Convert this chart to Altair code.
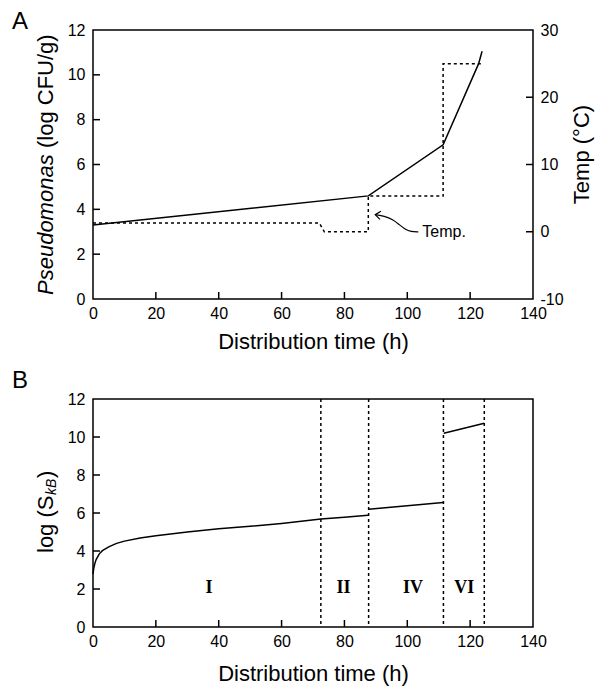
import altair as alt
import pandas as pd

# ---------------- data ----------------
X_TICKS = [0, 20, 40, 60, 80, 100, 120, 140]
Y_TICKS = [0, 2, 4, 6, 8, 10, 12]
T_TICKS = [-10, 0, 10, 20, 30]
X_MINOR = [20, 40, 60, 80, 100, 120]
Y_MINOR = [2, 4, 6, 8, 10]
T_MINOR = [0, 10, 20]

# Panel A: Pseudomonas count (log CFU/g)
pse_time = [0, 87.6, 111.4, 122.7, 123.8]
pse_log = [3.3, 4.6, 6.88, 10.5, 11.05]

# Panel A: temperature profile (deg C, right axis)
temp_time = [0, 72.0, 73.6, 87.6, 87.6, 111.4, 111.4, 123.5]
temp_c = [1.3, 1.3, 0.0, 0.0, 5.3, 5.3, 25.0, 25.0]

# Panel A: "Temp." annotation arrow
arrow_time = [89.8, 92.7, 95.4, 97.5, 99.3, 101.2, 103.5]
arrow_log = [3.76, 3.70, 3.55, 3.31, 3.11, 3.0, 2.99]
head_time = [91.6, 89.8, 91.3]
head_log = [3.91, 3.76, 3.55]
note_time = [104.8]
note_log = [3.0]
note_text = ["Temp."]

# Panel B: log(S_kB) segments
skb1_time = [0, 0.25, 0.6, 1, 2, 3, 5, 7.5, 10, 15, 20, 30, 40, 50, 60, 72.5, 80, 87.5]
skb1_val = [2.8, 3.1, 3.35, 3.55, 3.85, 4.02, 4.22, 4.4, 4.52, 4.68, 4.8, 5.0, 5.17, 5.3, 5.45, 5.68, 5.78, 5.88]
skb2_time = [87.7, 111.4]
skb2_val = [6.2, 6.55]
skb3_time = [111.6, 124.5]
skb3_val = [10.2, 10.72]

phase_bounds = [72.5, 87.7, 111.5, 124.5]
phase_names = ["I", "II", "IV", "VI"]
phase_pos = [36.9, 79.7, 101.8, 118.1]
phase_y = [2.05, 2.05, 2.05, 2.05]

# ---------------- layout ----------------
W = 440
HA = 269
HB = 228
TICK = 7
FONT = "Liberation Sans"
LW = 1.5

xs = alt.Scale(domain=[0, 140], nice=False, zero=False)
x_axis_A = alt.Axis(values=X_TICKS, title="Distribution time (h)", labelFlush=False,
                    labelPadding=6, titlePadding=10, labelOverlap=False)
x_axis_B = alt.Axis(values=X_TICKS, title="Distribution time (h)", labelFlush=False,
                    labelPadding=6, titlePadding=14, labelOverlap=False)
ysL = alt.Scale(domain=[0, 12], nice=False, zero=False)
yL_axis = alt.Axis(values=Y_TICKS, title=None, labelPadding=8, orient="left", labelOverlap=False)
ysT = alt.Scale(domain=[-10, 30], nice=False, zero=False)
yT_axis = alt.Axis(values=T_TICKS, title="Temp (°C)", orient="right", titleAngle=270,
                   labelPadding=7, titlePadding=30, titleY=124, labelExpr="'' + datum.value",
                   labelOverlap=False)


def XA(f):
    return alt.X(f"{f}:Q", scale=xs, axis=x_axis_A)


def XB(f):
    return alt.X(f"{f}:Q", scale=xs, axis=x_axis_B)


def YL(f):
    return alt.Y(f"{f}:Q", scale=ysL, axis=yL_axis)


def YT(f):
    return alt.Y(f"{f}:Q", scale=ysT, axis=yT_axis)


one = pd.DataFrame({"k": [0]})

# ---------------- panel A ----------------
df_pse = pd.DataFrame({"t": pse_time, "v": pse_log, "i": range(len(pse_time))})
df_temp = pd.DataFrame({"t": temp_time, "v": temp_c, "i": range(len(temp_time))})
df_arrow = pd.DataFrame({"t": arrow_time, "v": arrow_log, "i": range(len(arrow_time))})
df_head = pd.DataFrame({"t": head_time, "v": head_log, "i": range(len(head_time))})
df_note = pd.DataFrame({"t": note_time, "v": note_log, "s": note_text})
df_xt = pd.DataFrame({"t": X_MINOR})
df_yt = pd.DataFrame({"v": Y_MINOR})
df_tt = pd.DataFrame({"v": T_MINOR})

pse_line = alt.Chart(df_pse).mark_line(color="black", strokeWidth=LW).encode(
    x=XA("t"), y=YL("v"), order="i:Q")
arrow = alt.Chart(df_arrow).mark_line(color="black", strokeWidth=1.2, interpolate="basis").encode(
    x=XA("t"), y=YL("v"), order="i:Q")
head = alt.Chart(df_head).mark_line(color="black", strokeWidth=1.2).encode(
    x=XA("t"), y=YL("v"), order="i:Q")
note = alt.Chart(df_note).mark_text(align="left", baseline="middle", font=FONT, fontSize=16,
                                    color="black").encode(x=XA("t"), y=YL("v"), text="s:N")
xticksA = alt.Chart(df_xt).mark_rule(color="black", strokeWidth=LW).encode(
    x=XA("t"), y=alt.value(HA), y2=alt.value(HA - TICK))
yticksA = alt.Chart(df_yt).mark_rule(color="black", strokeWidth=LW).encode(
    y=YL("v"), x=alt.value(0), x2=alt.value(TICK))
titleA1 = alt.Chart(one).mark_text(angle=270, align="left", baseline="middle", font=FONT,
                                   fontSize=22, fontStyle="italic", color="black").encode(
    x=alt.value(-47), y=alt.value(265), text=alt.value("Pseudomonas"))
titleA2 = alt.Chart(one).mark_text(angle=270, align="left", baseline="middle", font=FONT,
                                   fontSize=22, color="black").encode(
    x=alt.value(-47), y=alt.value(118), text=alt.value("(log CFU/g)"))
labelA = alt.Chart(one).mark_text(align="left", baseline="top", font=FONT, fontSize=24,
                                  color="black").encode(
    x=alt.value(-81), y=alt.value(-20), text=alt.value("A"))

left_group = alt.layer(pse_line, arrow, head, note, xticksA, yticksA, titleA1, titleA2, labelA)

temp_line = alt.Chart(df_temp).mark_line(color="black", strokeWidth=LW, strokeDash=[3, 3]).encode(
    x=XA("t"), y=YT("v"), order="i:Q")
tticksA = alt.Chart(df_tt).mark_rule(color="black", strokeWidth=LW).encode(
    y=YT("v"), x=alt.value(W), x2=alt.value(W - TICK))
right_group = alt.layer(temp_line, tticksA)

panelA = alt.layer(left_group, right_group).resolve_scale(y="independent").properties(
    width=W, height=HA)

# ---------------- panel B ----------------
segs = []
for sid, (tt, vv) in enumerate([(skb1_time, skb1_val), (skb2_time, skb2_val), (skb3_time, skb3_val)]):
    for j, (a, b) in enumerate(zip(tt, vv)):
        segs.append({"seg": sid, "i": j, "t": a, "v": b})
df_skb = pd.DataFrame(segs)
df_bounds = pd.DataFrame({"t": phase_bounds})
df_phase = pd.DataFrame({"t": phase_pos, "v": phase_y, "s": phase_names})

skb_line = alt.Chart(df_skb).mark_line(color="black", strokeWidth=LW).encode(
    x=XB("t"), y=YL("v"), detail="seg:N", order="i:Q")
bounds = alt.Chart(df_bounds).mark_rule(color="black", strokeWidth=LW, strokeDash=[3, 3]).encode(
    x=XB("t"), y=alt.value(0), y2=alt.value(HB))
phases = alt.Chart(df_phase).mark_text(font="Liberation Serif", fontWeight="bold", fontSize=18,
                                       baseline="middle", color="black").encode(
    x=XB("t"), y=YL("v"), text="s:N")
xticksB = alt.Chart(df_xt).mark_rule(color="black", strokeWidth=LW).encode(
    x=XB("t"), y=alt.value(HB), y2=alt.value(HB - TICK))
yticksB = alt.Chart(df_yt).mark_rule(color="black", strokeWidth=LW).encode(
    y=YL("v"), x=alt.value(0), x2=alt.value(TICK))
titleB1 = alt.Chart(one).mark_text(angle=270, align="left", baseline="middle", font=FONT,
                                   fontSize=22, color="black").encode(
    x=alt.value(-47), y=alt.value(154), text=alt.value("log (S"))
titleB2 = alt.Chart(one).mark_text(angle=270, align="left", baseline="middle", font=FONT,
                                   fontSize=14, fontStyle="italic", color="black").encode(
    x=alt.value(-41), y=alt.value(96), text=alt.value("kB"))
titleB3 = alt.Chart(one).mark_text(angle=270, align="left", baseline="middle", font=FONT,
                                   fontSize=22, color="black").encode(
    x=alt.value(-47), y=alt.value(79), text=alt.value(")"))
labelB = alt.Chart(one).mark_text(align="left", baseline="top", font=FONT, fontSize=24,
                                  color="black").encode(
    x=alt.value(-81), y=alt.value(-30), text=alt.value("B"))

panelB = alt.layer(skb_line, bounds, phases, xticksB, yticksB, titleB1, titleB2, titleB3,
                   labelB).properties(width=W, height=HB)

chart = alt.vconcat(panelA, panelB, spacing=15).properties(
    padding={"left": 3, "top": 1, "right": 5, "bottom": 5}
).configure_view(
    stroke="black", strokeWidth=LW
).configure_axis(
    domain=False, ticks=False, grid=False,
    labelFont=FONT, labelFontSize=16, labelColor="black",
    titleFont=FONT, titleFontSize=22, titleFontWeight="normal", titleColor="black"
)

chart.save("out.html", embed_options={"renderer": "svg", "actions": False})
